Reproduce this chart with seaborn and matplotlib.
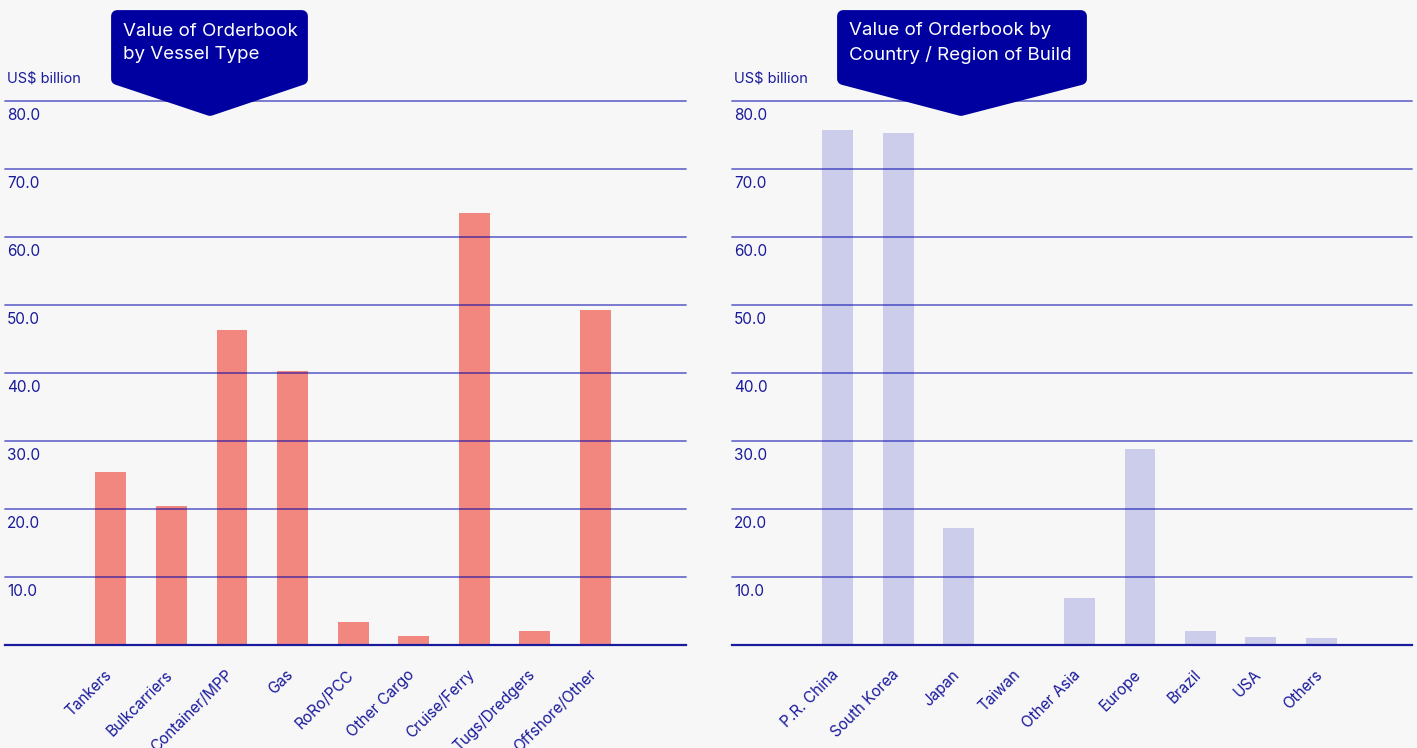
import matplotlib
matplotlib.use("Agg")
import matplotlib.pyplot as plt
import seaborn as sns
import pandas as pd
from matplotlib.patches import Polygon
from matplotlib.transforms import ScaledTranslation

# ---- data ----
vessel_types = ["Tankers", "Bulkcarriers", "Container/MPP", "Gas", "RoRo/PCC",
                "Other Cargo", "Cruise/Ferry", "Tugs/Dredgers", "Offshore/Other"]
vessel_values = [25.4, 20.4, 46.3, 40.3, 3.4, 1.3, 63.5, 2.1, 49.3]

regions = ["P.R. China", "South Korea", "Japan", "Taiwan", "Other Asia",
           "Europe", "Brazil", "USA", "Others"]
region_values = [75.7, 75.3, 17.2, 0.0, 6.9, 28.8, 2.1, 1.2, 1.0]

y_ticks = [10, 20, 30, 40, 50, 60, 70, 80]
y_tick_labels = ["10.0", "20.0", "30.0", "40.0", "50.0", "60.0", "70.0", "80.0"]
titles = ["Value of Orderbook\nby Vessel Type",
          "Value of Orderbook by\nCountry / Region of Build"]
unit_label = "US$ billion"

# ---- style ----
sns.set_style("white")
plt.rcParams["font.family"] = ["Inter", "DejaVu Sans"]

BG = "#F7F7F7"
NAVY = "#1A1A9C"
BOX = "#0000A0"
GRID = "#0000AA"

W, H = 1417, 748
fig = plt.figure(figsize=(W / 100, H / 100), dpi=100, facecolor=BG)


def fx(px):
    return px / W


def fy(py):
    return 1 - py / H


panels = [
    dict(left=5, right=686, cats=vessel_types, vals=vessel_values, color="#F2877F",
         box=(111, 308, 210), text_x=123),
    dict(left=732, right=1412, cats=regions, vals=region_values, color="#CCCDEA",
         box=(837, 1087, 961), text_x=849),
]

top_px, bottom_px = 101, 645

for p, title in zip(panels, titles):
    ax = fig.add_axes([fx(p["left"]), fy(bottom_px), fx(p["right"] - p["left"]),
                       (bottom_px - top_px) / H])
    ax.set_facecolor(BG)
    df = pd.DataFrame({"cat": p["cats"], "val": p["vals"]})
    sns.barplot(data=df, x="cat", y="val", color=p["color"], width=0.51,
                saturation=1, ax=ax, order=p["cats"], linewidth=0)
    ax.set_xlim(-1.75, len(p["cats"]) - 1 + 1.5)
    ax.set_ylim(0, 80)
    ax.set_xlabel("")
    ax.set_ylabel("")
    for s in ["top", "left", "right"]:
        ax.spines[s].set_visible(False)
    ax.spines["bottom"].set_color(NAVY)
    ax.spines["bottom"].set_linewidth(1.6)
    ax.spines["bottom"].set_zorder(5)

    # gridlines above bars
    for t in y_ticks:
        ax.axhline(t, color=GRID, alpha=0.55, lw=1.3, zorder=4, clip_on=False)
    ax.set_yticks([])
    # y tick labels inside plot, below gridlines
    for t, lab in zip(y_ticks, y_tick_labels):
        ax.text(0.003, t - 1.1, lab, transform=ax.get_yaxis_transform(),
                ha="left", va="top", fontsize=11, color=NAVY)

    ax.tick_params(axis="x", length=0, pad=16)
    ax.set_xticks(range(len(p["cats"])))
    ax.set_xticklabels(p["cats"], rotation=45, ha="right", rotation_mode="anchor",
                       fontsize=11, color=NAVY)
    shift = ScaledTranslation(-7 / 100, 0, fig.dpi_scale_trans)
    for lab in ax.get_xticklabels():
        lab.set_transform(lab.get_transform() + shift)

    # unit label
    fig.text(fx(p["left"] + 2), fy(79), unit_label, ha="left", va="center",
             fontsize=10.5, color=NAVY)

    # callout box (rounded corners via thick round-joined edge)
    bl, br, bp = p["box"]
    r = 6
    poly = Polygon([(fx(bl + r), fy(10 + r)), (fx(br - r), fy(10 + r)),
                    (fx(br - r), fy(79)), (fx(bp), fy(110)), (fx(bl + r), fy(79))],
                   closed=True, transform=fig.transFigure, facecolor=BOX,
                   edgecolor=BOX, linewidth=8.5, joinstyle="round", zorder=10)
    fig.add_artist(poly)
    fig.text(fx(p["text_x"]), fy(43), title, ha="left", va="center",
             fontsize=13.5, color="white", linespacing=1.45, zorder=11)

fig.savefig("out.png", dpi=100, facecolor=BG)
